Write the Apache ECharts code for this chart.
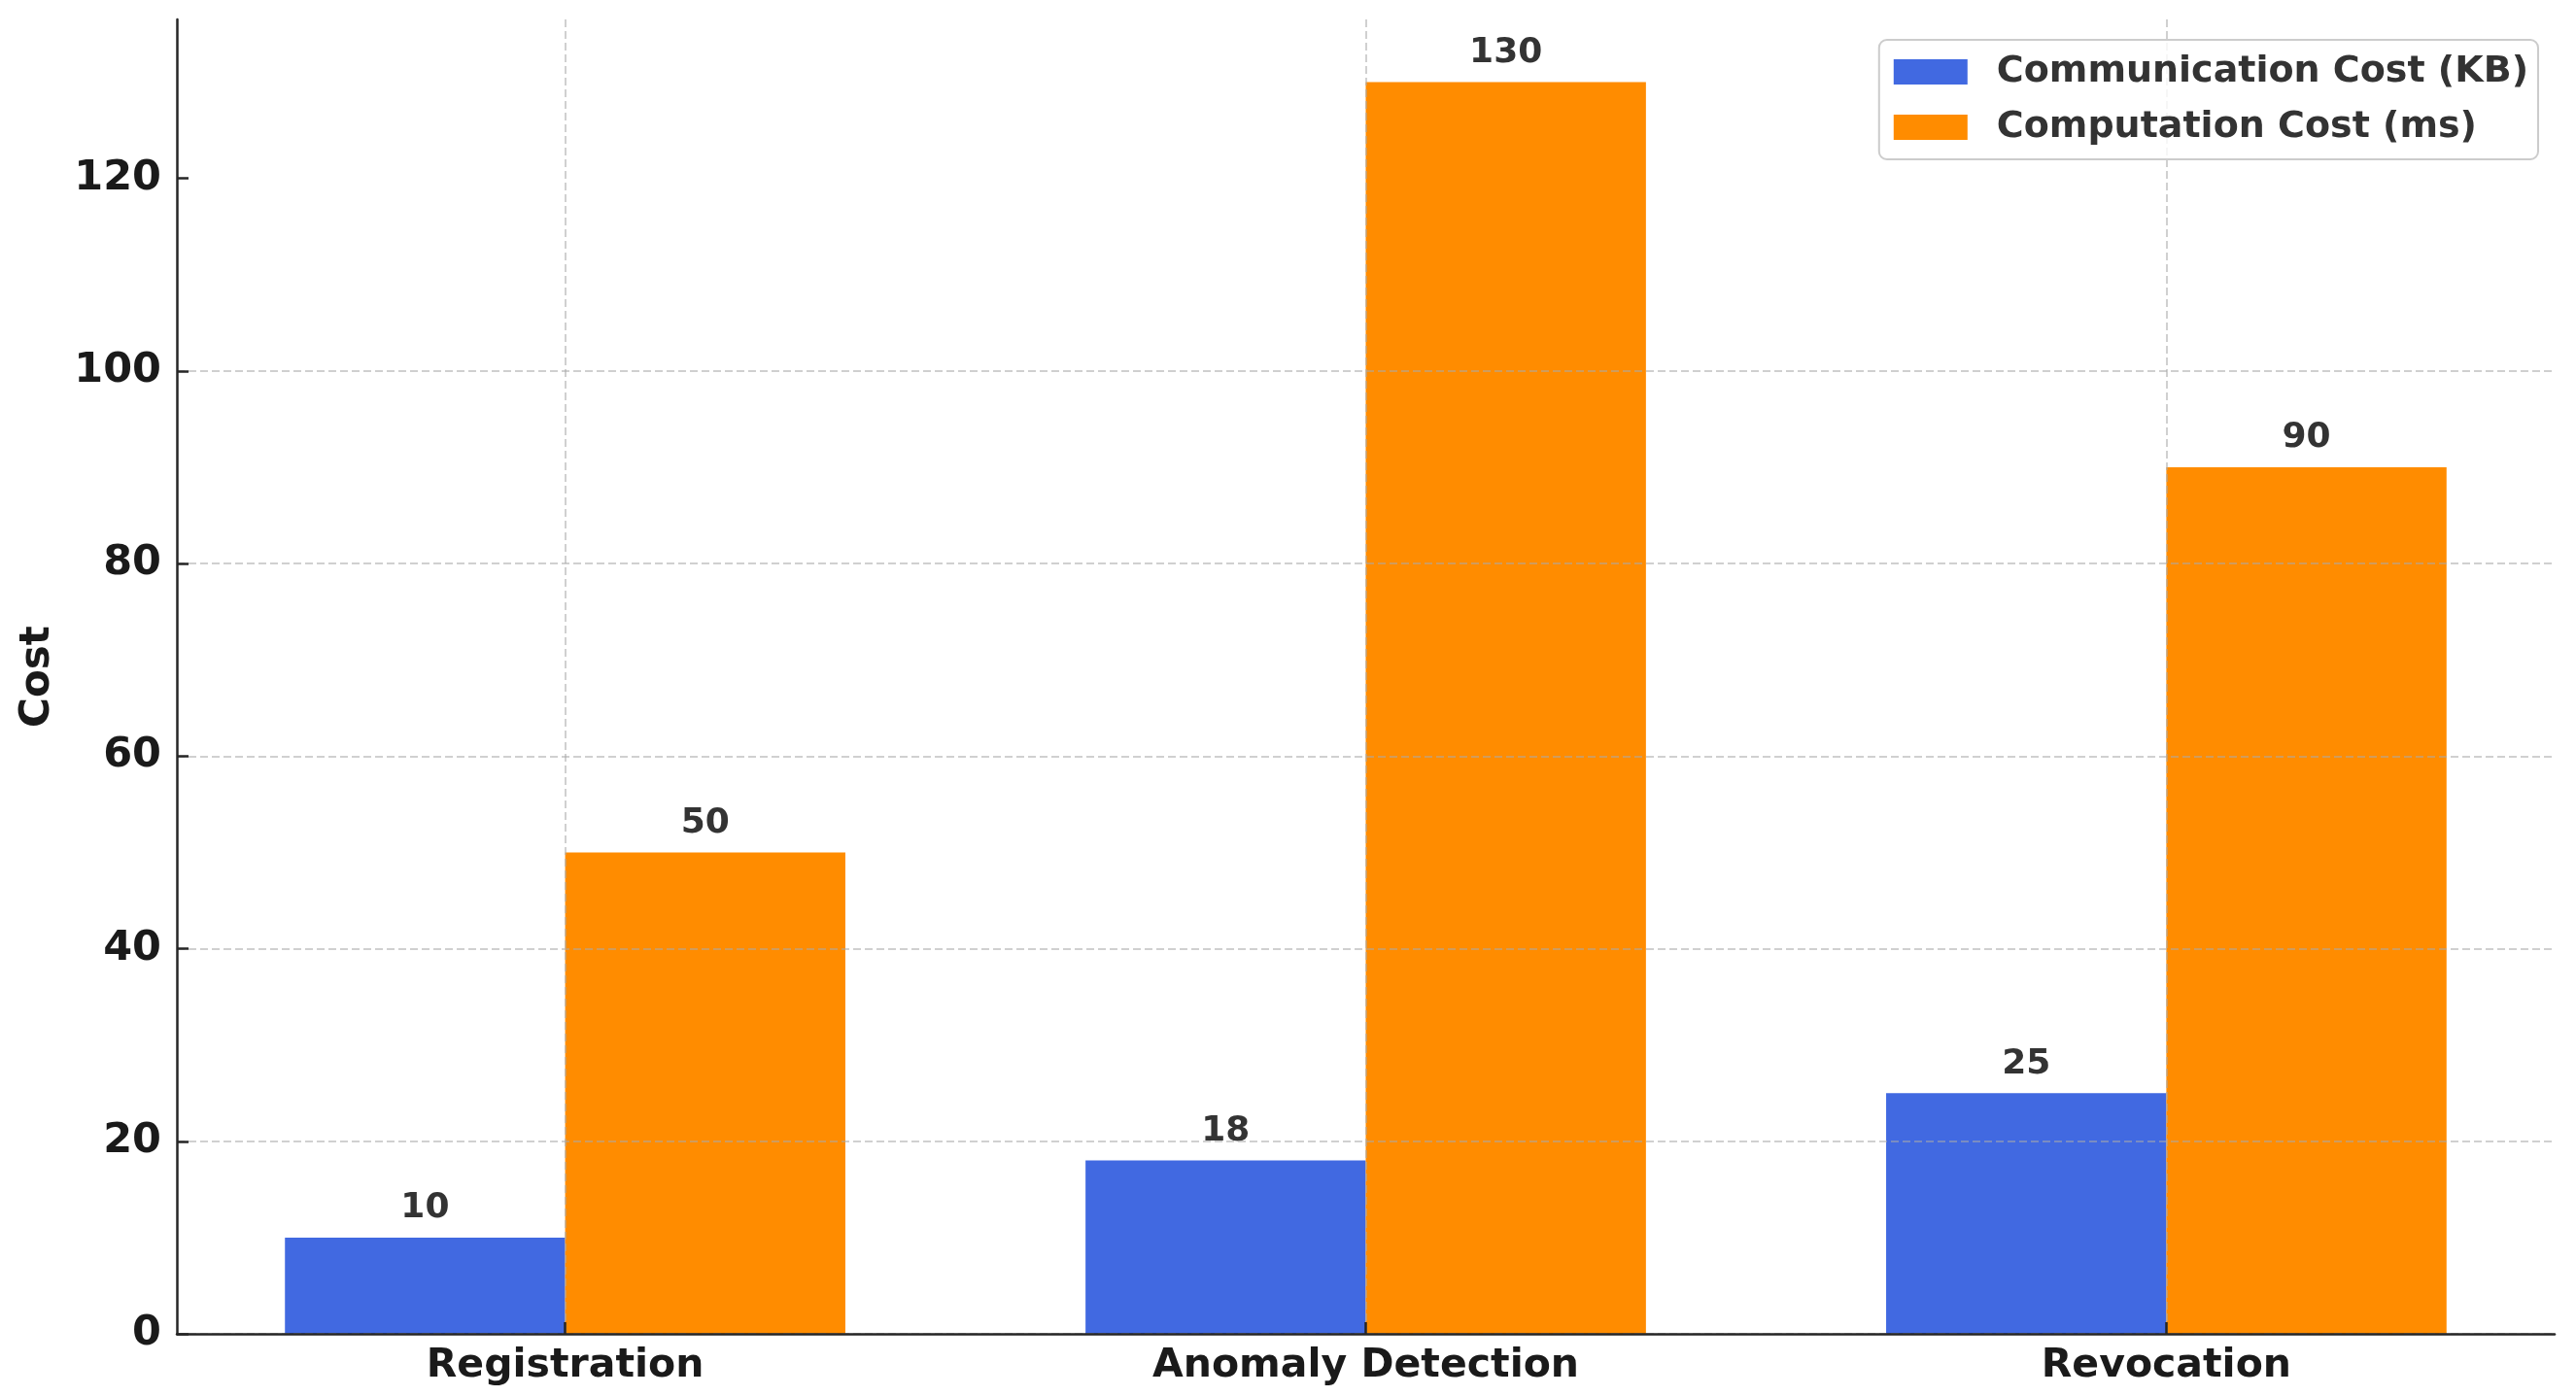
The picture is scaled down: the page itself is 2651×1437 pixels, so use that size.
<!DOCTYPE html>
<html>
<head>
<meta charset="utf-8">
<script src="https://cdn.jsdelivr.net/npm/echarts@6/dist/echarts.min.js"></script>
<style>
html,body{margin:0;padding:0;background:#fff;}
#chart{width:2651px;height:1437px;}
</style>
</head>
<body>
<div id="chart"></div>
<script>
const categories = ['Registration', 'Anomaly Detection', 'Revocation'];
const commCost = [10, 18, 25];
const compCost = [50, 130, 90];
const seriesNames = ['Communication Cost (KB)', 'Computation Cost (ms)'];
const yTicks = [0, 20, 40, 60, 80, 100, 120];
const yTitle = 'Cost';

const FONT = 'DejaVu Sans';
const catIdx = categories.map((c, i) => i);
const toPairs = arr => arr.map((v, i) => [i, v]);

const chart = echarts.init(document.getElementById('chart'));
const gridLine = { color: 'rgba(170,170,170,0.55)', width: 2, type: [8, 4] };
const labelStyle = {
  show: true, position: 'top', distance: 12,
  fontFamily: FONT, fontWeight: 'bold', fontSize: 36, color: '#333333',
  formatter: p => p.value[1]
};

chart.setOption({
  animation: false,
  backgroundColor: '#ffffff',
  grid: { left: 182, right: 22, top: 20, bottom: 64, containLabel: false },
  legend: {
    orient: 'vertical', right: 39, top: 41,
    padding: [13, 10, 13, 15],
    itemWidth: 76, itemHeight: 26, itemGap: 17,
    icon: 'rect',
    backgroundColor: 'rgba(255,255,255,0.8)',
    borderColor: '#cccccc', borderWidth: 2, borderRadius: 8,
    textStyle: { fontFamily: FONT, fontWeight: 'bold', fontSize: 38, color: '#333333', padding: [0, 0, 0, 25], lineHeight: 40 },
    z: 10,
    data: seriesNames
  },
  xAxis: {
    type: 'value', min: -0.485, max: 2.485, z: 5,
    axisLine: { show: true, onZero: false, lineStyle: { color: '#262626', width: 2.5 } },
    axisTick: { show: true, inside: true, length: 12, customValues: catIdx, lineStyle: { color: '#262626', width: 2.5 } },
    axisLabel: {
      customValues: catIdx, margin: 13,
      formatter: v => categories[Math.round(v)],
      fontFamily: FONT, fontWeight: 'bold', fontSize: 41, color: '#1a1a1a'
    },
    splitLine: { show: true, lineStyle: gridLine }
  },
  yAxis: {
    type: 'value', min: 0, max: 136.5, z: 5,
    name: yTitle, nameLocation: 'middle', nameGap: 122,
    nameTextStyle: { fontFamily: FONT, fontWeight: 'bold', fontSize: 42, color: '#1a1a1a' },
    axisLine: { show: true, onZero: false, lineStyle: { color: '#262626', width: 2.5 } },
    axisTick: { show: true, inside: true, length: 12, customValues: yTicks, lineStyle: { color: '#262626', width: 2.5 } },
    axisLabel: {
      customValues: yTicks, margin: 16,
      fontFamily: FONT, fontWeight: 'bold', fontSize: 43, color: '#1a1a1a'
    },
    splitLine: { show: true, showMaxLine: false, lineStyle: gridLine }
  },
  series: [
    {
      name: seriesNames[0], type: 'bar', data: toPairs(commCost),
      barWidth: '35%', barGap: '0%',
      itemStyle: { color: '#4169E1' },
      label: labelStyle, z: 2
    },
    {
      name: seriesNames[1], type: 'bar', data: toPairs(compCost),
      barWidth: '35%', barGap: '0%',
      itemStyle: { color: '#FF8C00' },
      label: labelStyle, z: 2
    }
  ]
});
</script>
</body>
</html>
